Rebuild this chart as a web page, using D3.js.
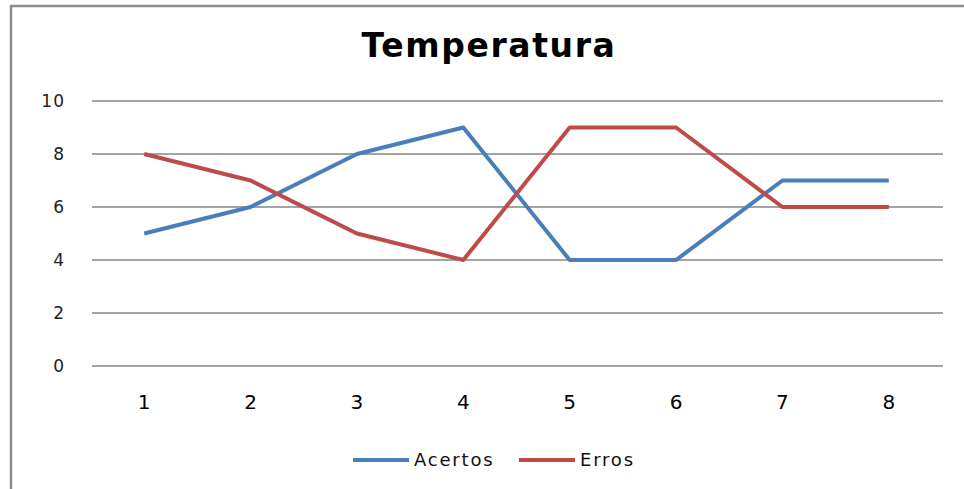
<!DOCTYPE html>
<html>
<head>
<meta charset="utf-8">
<style>
body { margin: 0; background: #fff; }
text { font-family: "DejaVu Sans", sans-serif; }
.grid line { stroke: #868686; stroke-width: 1.5px; }
</style>
</head>
<body>
<script src="https://cdn.jsdelivr.net/npm/d3@7"></script>
<script>
var categories = ["1", "2", "3", "4", "5", "6", "7", "8"];
var acertos = [5, 6, 8, 9, 4, 4, 7, 7];
var erros = [8, 7, 5, 4, 9, 9, 6, 6];
var yTicks = [0, 2, 4, 6, 8, 10];
var seriesNames = ["Acertos", "Erros"];
var colors = ["#4a7ebb", "#be4b48"];

var width = 964, height = 489;
var plotLeft = 92, plotRight = 943, plotTop = 101, plotBottom = 366;

var svg = d3.select("body").append("svg")
    .attr("width", width)
    .attr("height", height);

// outer frame (only top and left edges visible)
svg.append("path")
    .attr("d", "M11,489 L11,6 L964,6")
    .attr("fill", "none")
    .attr("stroke", "#8c8c8c")
    .attr("stroke-width", 2.5);

var x = d3.scaleBand().domain(categories).range([plotLeft, plotRight]);
var y = d3.scaleLinear().domain([0, 10]).range([plotBottom, plotTop]);

svg.append("g")
    .attr("class", "grid")
    .selectAll("line")
    .data(yTicks)
    .enter().append("line")
    .attr("x1", plotLeft).attr("x2", plotRight)
    .attr("y1", function(d) { return y(d); })
    .attr("y2", function(d) { return y(d); });

svg.append("g")
    .selectAll("text")
    .data(yTicks)
    .enter().append("text")
    .attr("x", 65)
    .attr("y", function(d) { return y(d) + 6; })
    .attr("text-anchor", "end")
    .attr("font-size", 17)
    .attr("letter-spacing", 1)
    .attr("fill", "#222")
    .text(function(d) { return d; });

svg.append("g")
    .selectAll("text")
    .data(categories)
    .enter().append("text")
    .attr("x", function(d) { return x(d) + x.bandwidth() / 2 - 1; })
    .attr("y", 409)
    .attr("text-anchor", "middle")
    .attr("font-size", 20)
    .attr("fill", "#000")
    .text(function(d) { return d; });

svg.append("text")
    .attr("x", 489)
    .attr("y", 57)
    .attr("text-anchor", "middle")
    .attr("font-size", 33)
    .attr("font-weight", "bold")
    .attr("letter-spacing", 1.6)
    .attr("fill", "#000")
    .text("Temperatura");

var line = d3.line()
    .x(function(d, i) { return x(categories[i]) + x.bandwidth() / 2 - 1; })
    .y(function(d) { return y(d); });

[acertos, erros].forEach(function(s, i) {
  svg.append("path")
      .datum(s)
      .attr("d", line)
      .attr("fill", "none")
      .attr("stroke", colors[i])
      .attr("stroke-width", 4)
      .attr("stroke-linejoin", "round");
});

// legend
var legendX = [353, 519];
seriesNames.forEach(function(name, i) {
  svg.append("line")
      .attr("x1", legendX[i]).attr("x2", legendX[i] + 56)
      .attr("y1", 460).attr("y2", 460)
      .attr("stroke", colors[i])
      .attr("stroke-width", 4);
  svg.append("text")
      .attr("x", legendX[i] + 61)
      .attr("y", 466)
      .attr("font-size", 18)
      .attr("letter-spacing", 1.8)
      .attr("fill", "#111")
      .text(name);
});
</script>
</body>
</html>
